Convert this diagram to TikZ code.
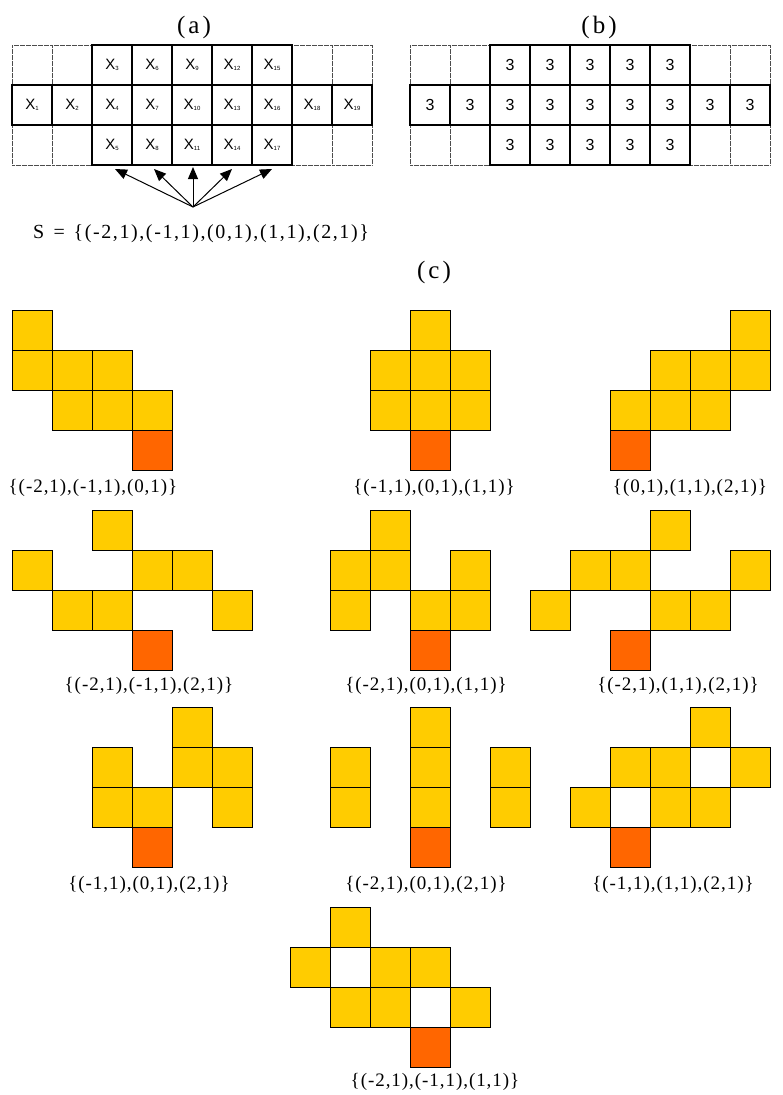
\documentclass[tikz,border=0pt]{standalone}
\usepackage{fontspec}
\setmainfont{Liberation Serif}
\newfontfamily\hsans{Liberation Sans}
\usetikzlibrary{arrows.meta}
\definecolor{cyel}{HTML}{FFCC00}
\definecolor{cred}{HTML}{FF6600}
\newcommand{\xlab}[1]{{\fontsize{15}{15}\selectfont X}\raisebox{-1.5pt}{\fontsize{6}{6}\selectfont #1}}
\begin{document}
\begin{tikzpicture}[x=1pt,y=-1pt,
  gcell/.style={draw=black!70, dash pattern=on 0.8pt off 0.4pt, line width=0.9pt, minimum size=40pt, inner sep=0pt, outer sep=0pt, anchor=north west},
  acell/.style={draw=black, line width=1.4pt, minimum size=40pt, inner sep=0pt, outer sep=0pt, anchor=north west, font=\hsans},
  bnum/.style={acell, font=\hsans\fontsize{16}{16}\selectfont},
  ycell/.style={draw=black, line width=1pt, fill=cyel, minimum size=40pt, inner sep=0pt, outer sep=0pt, anchor=north west},
  rcell/.style={ycell, fill=cred},
  wcell/.style={ycell, fill=white},
  ttl/.style={font=\fontsize{25}{25}\selectfont\addfontfeature{LetterSpace=12}, inner sep=0pt},
  lbl/.style={font=\fontsize{19}{19}\selectfont\addfontfeature{LetterSpace=5}, inner sep=0pt},
  slbl/.style={font=\fontsize{20}{20}\selectfont\addfontfeature{LetterSpace=8}, inner sep=0pt},
  arr/.style={-{Triangle[length=12pt,width=10pt]}, line width=1pt}]
\useasboundingbox (0,0) rectangle (782,1095);
% ---- (a) ----
\node[ttl] (la) at (194,27) {(a)};
\foreach \c/\r [count=\k] in {0/0,1/0,7/0,8/0,0/2,1/2,7/2,8/2}
  \node[gcell] (ae\k) at ({12+40*\c},{45+40*\r}) {};
\foreach \c/\r/\n in {2/0/3,3/0/6,4/0/9,5/0/12,6/0/15,0/1/1,1/1/2,2/1/4,3/1/7,4/1/10,5/1/13,6/1/16,7/1/18,8/1/19,2/2/5,3/2/8,4/2/11,5/2/14,6/2/17}
  \node[acell] (x\n) at ({12+40*\c},{45+40*\r}) {\xlab{\n}};
\coordinate (o) at (193,207);
\coordinate (t1) at (115,169);
\coordinate (t2) at (154,169);
\coordinate (t3) at (193,167);
\coordinate (t4) at (232,169);
\coordinate (t5) at (272,169);
\foreach \i in {1,...,5} \draw[arr] (o) -- (t\i);
\node[slbl] (sl) at (201,234) {S\hspace{3pt} = \hspace{2pt}\{(-2,1),(-1,1),(0,1),(1,1),(2,1)\}};
% ---- (b) ----
\node[ttl] (lb) at (599,27) {(b)};
\foreach \c/\r [count=\k] in {0/0,1/0,7/0,8/0,0/2,1/2,7/2,8/2}
  \node[gcell] (be\k) at ({410+40*\c},{45+40*\r}) {};
\foreach \c/\r [count=\k] in {2/0,3/0,4/0,5/0,6/0,0/1,1/1,2/1,3/1,4/1,5/1,6/1,7/1,8/1,2/2,3/2,4/2,5/2,6/2}
  \node[bnum] (b\k) at ({410+40*\c},{45+40*\r}) {3};
% ---- (c) ----
\node[ttl] (lc) at (434,272) {(c)};
% shape 1
\foreach \x/\y [count=\k] in {12/310,12/350,52/350,92/350,52/390,92/390,132/390}
  \node[ycell] (p1y\k) at (\x,\y) {};
\node[rcell] (p1r) at (132,430) {};
\node[lbl] (p1l) at (93,488) {\{(-2,1),(-1,1),(0,1)\}};
% shape 2
\foreach \x/\y [count=\k] in {410/310,370/350,410/350,450/350,370/390,410/390,450/390}
  \node[ycell] (p2y\k) at (\x,\y) {};
\node[rcell] (p2r) at (410,430) {};
\node[lbl] (p2l) at (434,488) {\{(-1,1),(0,1),(1,1)\}};
% shape 3
\foreach \x/\y [count=\k] in {730/310,650/350,690/350,730/350,610/390,650/390,690/390}
  \node[ycell] (p3y\k) at (\x,\y) {};
\node[rcell] (p3r) at (610,430) {};
\node[lbl] (p3l) at (690,488) {\{(0,1),(1,1),(2,1)\}};
% shape 4
\foreach \x/\y [count=\k] in {92/510,12/550,132/550,172/550,52/590,92/590,212/590}
  \node[ycell] (p4y\k) at (\x,\y) {};
\node[rcell] (p4r) at (132,630) {};
\node[lbl] (p4l) at (149,686) {\{(-2,1),(-1,1),(2,1)\}};
% shape 5
\foreach \x/\y [count=\k] in {370/510,330/550,370/550,450/550,330/590,410/590,450/590}
  \node[ycell] (p5y\k) at (\x,\y) {};
\node[rcell] (p5r) at (410,630) {};
\node[lbl] (p5l) at (426,686) {\{(-2,1),(0,1),(1,1)\}};
% shape 6
\foreach \x/\y [count=\k] in {650/510,570/550,610/550,730/550,530/590,650/590,690/590}
  \node[ycell] (p6y\k) at (\x,\y) {};
\node[rcell] (p6r) at (610,630) {};
\node[lbl] (p6l) at (678,686) {\{(-2,1),(1,1),(2,1)\}};
% shape 7
\foreach \x/\y [count=\k] in {172/707,92/747,172/747,212/747,92/787,132/787,212/787}
  \node[ycell] (p7y\k) at (\x,\y) {};
\node[rcell] (p7r) at (132,827) {};
\node[lbl] (p7l) at (149,885) {\{(-1,1),(0,1),(2,1)\}};
% shape 8
\foreach \x/\y [count=\k] in {410/707,330/747,410/747,490/747,330/787,410/787,490/787}
  \node[ycell] (p8y\k) at (\x,\y) {};
\node[rcell] (p8r) at (410,827) {};
\node[lbl] (p8l) at (426,885) {\{(-2,1),(0,1),(2,1)\}};
% shape 9
\foreach \x/\y [count=\k] in {690/707,610/747,650/747,730/747,570/787,650/787,690/787}
  \node[ycell] (p9y\k) at (\x,\y) {};
\node[wcell] (p9w1) at (690,747) {};
\node[wcell] (p9w2) at (610,787) {};
\node[rcell] (p9r) at (610,827) {};
\node[lbl] (p9l) at (673,885) {\{(-1,1),(1,1),(2,1)\}};
% shape 10
\foreach \x/\y [count=\k] in {330/907,290/947,370/947,410/947,330/987,370/987,450/987}
  \node[ycell] (p10y\k) at (\x,\y) {};
\node[wcell] (p10w1) at (330,947) {};
\node[wcell] (p10w2) at (410,987) {};
\node[rcell] (p10r) at (410,1027) {};
\node[lbl] (p10l) at (435,1082) {\{(-2,1),(-1,1),(1,1)\}};
\end{tikzpicture}
\end{document}
